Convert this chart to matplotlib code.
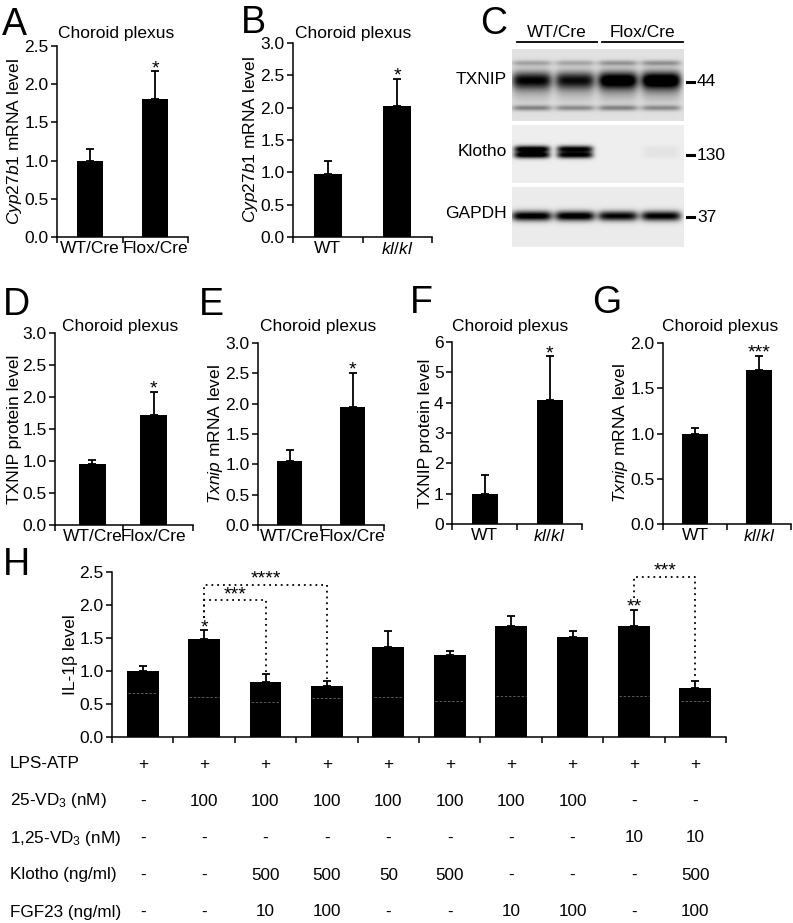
"""Multi-panel figure: Klotho / vitamin D / TXNIP in choroid plexus."""

import matplotlib

matplotlib.use("Agg")
import matplotlib.pyplot as plt
import numpy as np
from matplotlib.lines import Line2D
from matplotlib.transforms import blended_transform_factory

plt.rcParams["font.family"] = ["Liberation Sans", "DejaVu Sans"]
plt.rcParams["mathtext.fontset"] = "custom"
plt.rcParams["mathtext.rm"] = "Liberation Sans"
plt.rcParams["mathtext.it"] = "Liberation Sans:italic"
plt.rcParams["axes.linewidth"] = 1.1

W, H = 793, 923
FS = 12.5
TFS = 12.3

# ---- data: small bar panels ----
cre_groups = ["WT/Cre", "Flox/Cre"]
kl_groups = ["WT", r"$\mathit{kl/kl}$"]

a_mean, a_err = [0.99, 1.80], [0.16, 0.37]
b_mean, b_err = [0.97, 2.02], [0.20, 0.43]
d_mean, d_err = [0.95, 1.72], [0.06, 0.36]
e_mean, e_err = [1.05, 1.94], [0.18, 0.57]
f_mean, f_err = [1.00, 4.10], [0.63, 1.44]
g_mean, g_err = [0.99, 1.70], [0.07, 0.16]

# ---- data: western blot (relative band intensity per lane) ----
blot_rows = ["TXNIP", "Klotho", "GAPDH"]
blot_kda = ["44", "130", "37"]
txnip_band = [0.78, 0.74, 0.95, 1.00]
klotho_band = [1.00, 0.95, 0.00, 0.04]
gapdh_band = [1.00, 1.00, 0.92, 0.95]

# ---- data: panel H ----
h_mean = [1.00, 1.48, 0.84, 0.77, 1.37, 1.25, 1.68, 1.51, 1.68, 0.75]
h_err = [0.08, 0.14, 0.11, 0.08, 0.24, 0.06, 0.15, 0.10, 0.25, 0.10]
h_stars = ["", "*", "", "", "", "", "", "", "**", ""]
h_inner = [0.66, 0.60, 0.53, 0.59, 0.60, 0.55, 0.62, None, 0.62, 0.55]
h_pairs = [(1, 3), (1, 2), (8, 9)]
h_levels = [2.31, 2.07, 2.43]
h_pair_labels = ["****", "***", "***"]

row_names = ["LPS-ATP", "25-VD$_3$ (nM)", "1,25-VD$_3$ (nM)",
             "Klotho (ng/ml)", "FGF23 (ng/ml)"]
lps_atp = ["+"] * 10
vd25 = ["-", "100", "100", "100", "100", "100", "100", "100", "-", "-"]
vd125 = ["-", "-", "-", "-", "-", "-", "-", "-", "10", "10"]
klotho = ["-", "-", "500", "500", "50", "500", "-", "-", "-", "500"]
fgf23 = ["-", "-", "10", "100", "-", "-", "10", "100", "-", "100"]


def px_axes(fig, left, top, right, bottom):
    return fig.add_axes([left / W, 1 - bottom / H, (right - left) / W, (bottom - top) / H])


def style(ax):
    for s in ("top", "right"):
        ax.spines[s].set_visible(False)
    ax.tick_params(axis="y", direction="out", length=4, width=1.1, labelsize=FS, pad=2)
    ax.tick_params(axis="x", which="major", length=0, labelsize=FS, pad=3)
    ax.tick_params(axis="x", which="minor", direction="out", length=4, width=1.1)


def star(ax, x, y, s, fs=14):
    ax.annotate(s, (x, y), xytext=(0, -1.5), textcoords="offset points",
                ha="center", va="baseline", fontsize=fs)


def small_panel(fig, box, groups, mean, err, ymax, step, ylabel, sig,
                width=0.4, xlim=(-0.5, 1.5), fmt="{:.1f}"):
    ax = px_axes(fig, *box)
    x = np.arange(len(mean))
    ax.bar(x, mean, width=width, color="black", zorder=2)
    ax.errorbar(x, mean, yerr=[np.zeros(len(err)), err], fmt="none", ecolor="black",
                elinewidth=1.3, capsize=3, capthick=1.3, zorder=1)
    star(ax, x[1], mean[1] + err[1], sig)
    ax.set_xlim(*xlim)
    ax.set_ylim(0, ymax)
    ticks = np.arange(0, ymax + step / 2, step)
    ax.set_yticks(ticks)
    ax.set_yticklabels([fmt.format(t) for t in ticks])
    ax.set_xticks(x)
    ax.set_xticklabels(groups)
    ax.set_xticks([xlim[0], 0.5, xlim[1]], minor=True)
    ax.set_ylabel(ylabel, fontsize=FS, labelpad=0.5)
    style(ax)
    return ax


def blot(fig, box, bands, lane_w, bg):
    left, top, right, bottom = box
    ax = px_axes(fig, *box)
    w, h = right - left, bottom - top
    xx, yy = np.meshgrid(np.arange(w) + 0.5, np.arange(h) + 0.5)
    lanes = [20, 63, 106, 149]
    img = np.full((h, w), bg)
    for yc, sig, inten in bands:
        for cx, val in zip(lanes, inten):
            gx = np.exp(-(((xx - cx) / (lane_w / 2)) ** 6))
            gy = np.exp(-0.5 * ((yy - yc) / sig) ** 2)
            img = img - val * gx * gy
    ax.imshow(np.clip(img, 0, 1), cmap="gray", vmin=0, vmax=1, aspect="auto",
              interpolation="bilinear")
    ax.set_axis_off()
    return ax


def main():
    fig = plt.figure(figsize=(W / 100, H / 100), dpi=100)

    it_cyp = r"$\mathit{Cyp27b1}$ mRNA level"
    it_tx = r"$\mathit{Txnip}$ mRNA level"

    # Row 1
    small_panel(fig, (57, 46, 188, 237), cre_groups, a_mean, a_err, 2.5, 0.5, it_cyp, "*")
    small_panel(fig, (293, 43, 432, 237), kl_groups, b_mean, b_err, 3.0, 0.5, it_cyp, "*")

    # Row 2
    small_panel(fig, (55, 333, 193, 525), cre_groups, d_mean, d_err, 3.0, 0.5,
                "TXNIP protein level", "*", width=0.44, xlim=(-0.61, 1.64))
    small_panel(fig, (258, 343, 384, 525), cre_groups, e_mean, e_err, 3.0, 0.5, it_tx, "*")
    small_panel(fig, (452, 342, 582, 524), kl_groups, f_mean, f_err, 6, 1,
                "TXNIP protein level", "*", fmt="{:.0f}")
    small_panel(fig, (663, 343, 791, 524), kl_groups, g_mean, g_err, 2.0, 0.5, it_tx, "***")

    # panel titles
    for cx, base in [(116, 38), (353, 38), (120, 331), (318, 331), (510, 331), (720, 331)]:
        fig.text(cx / W, 1 - base / H, "Choroid plexus", ha="center", va="baseline",
                 fontsize=FS)

    # Western blot (C)
    blot(fig, (512, 49, 684, 121),
         [(14, 2.0, [0.3 * v for v in txnip_band]),
          (31, 6.0, txnip_band),
          (40, 9.0, [0.25 * v for v in txnip_band]),
          (59, 2.0, [0.35, 0.32, 0.35, 0.32])], 40, 0.88)
    blot(fig, (512, 125, 684, 183),
         [(24, 2.4, klotho_band), (30, 2.4, klotho_band)], 36, 0.93)
    blot(fig, (512, 187, 684, 247), [(29, 3.5, gapdh_band)], 40, 0.92)

    for name, kda, y_lab, y_kda in zip(blot_rows, blot_kda, [80, 152, 213], [82, 155, 217]):
        fig.text(507 / W, 1 - y_lab / H, name, ha="right", va="center", fontsize=FS)
        fig.add_artist(Line2D([687 / W, 694 / W], [1 - y_kda / H] * 2, color="black", lw=2.2))
        fig.text(697 / W, 1 - y_kda / H, kda, ha="left", va="center", fontsize=FS)

    for label, x0, x1 in [("WT/Cre", 517, 597), ("Flox/Cre", 602, 683)]:
        fig.text((x0 + x1) / 2 / W, 1 - 37 / H, label, ha="center", va="baseline", fontsize=FS)
        fig.add_artist(Line2D([x0 / W, x1 / W], [1 - 42 / H] * 2, color="black", lw=1.3))

    # Panel H
    ax = px_axes(fig, 112, 572, 726, 737)
    x = np.arange(len(h_mean))
    ax.bar(x, h_mean, width=0.52, color="black", zorder=2)
    ax.errorbar(x, h_mean, yerr=[np.zeros(len(h_err)), h_err], fmt="none", ecolor="black",
                elinewidth=1.3, capsize=3, capthick=1.3, zorder=1)
    for xi, yi in zip(x, h_inner):
        if yi is not None:
            ax.plot([xi - 0.24, xi + 0.24], [yi, yi], color="#666666", lw=0.6,
                    ls=(0, (3, 2)), zorder=3)
    for xi, m, e, s in zip(x, h_mean, h_err, h_stars):
        if s:
            star(ax, xi, m + e, s)
    for (i, j), lvl, s in zip(h_pairs, h_levels, h_pair_labels):
        top_i = h_mean[i] + h_err[i] + 0.18
        top_j = h_mean[j] + h_err[j] + 0.03
        ax.plot([i, i, j, j], [top_i, lvl, lvl, top_j], color="black", lw=1.3,
                ls=(0, (1, 2.2)), zorder=3)
        ax.annotate(s, ((i + j) / 2, lvl), xytext=(0, 0.5), textcoords="offset points",
                    ha="center", va="baseline", fontsize=14)
    ax.set_xlim(-0.5, 9.5)
    ax.set_ylim(0, 2.5)
    ax.set_yticks(np.arange(0, 2.51, 0.5))
    ax.set_yticklabels([f"{t:.1f}" for t in np.arange(0, 2.51, 0.5)])
    ax.set_xticks([])
    ax.set_xticks(np.arange(-0.5, 10), minor=True)
    ax.set_ylabel("IL-1β level", fontsize=FS, labelpad=1)
    style(ax)

    # treatment table under H
    trans = blended_transform_factory(ax.transData, fig.transFigure)
    rows = [lps_atp, vd25, vd125, klotho, fgf23]
    for name, cells, y in zip(row_names, rows, [764, 801, 838, 875, 912]):
        fig.text(10 / W, 1 - y / H, name, ha="left", va="center", fontsize=TFS)
        for xi, c in zip(x, cells):
            ax.text(xi, 1 - y / H, c, transform=trans, ha="center", va="center", fontsize=TFS)

    # panel letters
    for letter, lx, base in [("A", 2, 35), ("B", 241, 33), ("C", 480, 34), ("D", 3, 315),
                             ("E", 199, 315), ("F", 410, 313), ("G", 592, 313), ("H", 3, 575)]:
        fig.text(lx / W, 1 - base / H, letter, ha="left", va="baseline", fontsize=27)

    fig.savefig("out.png", dpi=100)


if __name__ == "__main__":
    main()
